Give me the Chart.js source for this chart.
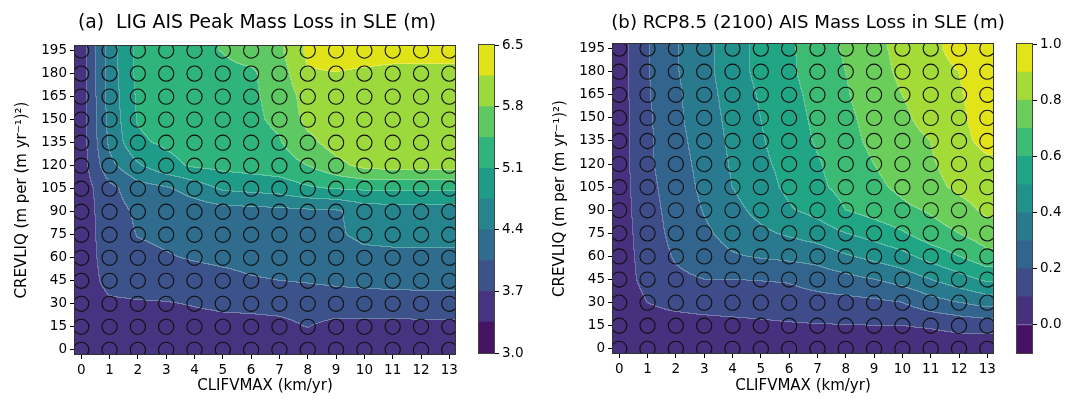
<!DOCTYPE html>
<html>
<head>
<meta charset="utf-8">
<script src="https://cdn.jsdelivr.net/npm/chart.js@4.4.1/dist/chart.umd.min.js"></script>
<style>
  html, body { margin: 0; padding: 0; background: #fff; }
  #wrap { position: relative; width: 1083px; height: 400px; overflow: hidden; }
  canvas { position: absolute; top: 0; }
</style>
</head>
<body>
<div id="wrap">
  <canvas id="ligChart" width="470" height="400" style="left:0px"></canvas>
  <canvas id="ligBar" width="70" height="400" style="left:470px"></canvas>
  <canvas id="rcpChart" width="480" height="400" style="left:540px"></canvas>
  <canvas id="rcpBar" width="73" height="400" style="left:1010px"></canvas>
</div>
<script>
const clifvmax = [0, 1, 2, 3, 4, 5, 6, 7, 8, 9, 10, 11, 12, 13];
const crevliq = [0, 15, 30, 45, 60, 75, 90, 105, 120, 135, 150, 165, 180, 195];

// LIG peak AIS mass loss (m SLE): one row per CREVLIQ value, columns follow CLIFVMAX
const ligPeakLoss = [
    [3.42, 3.47, 3.47, 3.47, 3.47, 3.47, 3.47, 3.47, 3.48, 3.47, 3.47, 3.47, 3.47, 3.47],
    [3.48, 3.55, 3.57, 3.58, 3.58, 3.60, 3.60, 3.62, 3.71, 3.62, 3.60, 3.60, 3.60, 3.60],
    [3.50, 3.65, 3.67, 3.68, 3.72, 3.76, 3.78, 3.80, 3.82, 3.85, 3.88, 3.90, 3.92, 3.93],
    [3.50, 3.80, 3.85, 3.90, 3.95, 3.98, 4.03, 4.05, 4.08, 4.12, 4.14, 4.15, 4.15, 4.15],
    [3.50, 3.85, 3.98, 4.03, 4.07, 4.10, 4.12, 4.14, 4.17, 4.22, 4.30, 4.32, 4.32, 4.32],
    [3.50, 3.88, 4.06, 4.10, 4.15, 4.18, 4.20, 4.22, 4.25, 4.35, 4.48, 4.50, 4.50, 4.50],
    [3.50, 3.90, 4.10, 4.15, 4.20, 4.25, 4.28, 4.30, 4.33, 4.35, 4.55, 4.58, 4.58, 4.58],
    [3.50, 3.95, 4.25, 4.35, 4.55, 4.80, 4.85, 4.90, 5.05, 5.12, 5.15, 5.15, 5.15, 5.15],
    [3.50, 4.30, 4.70, 5.00, 5.15, 5.20, 5.25, 5.30, 5.45, 5.70, 5.90, 5.95, 5.95, 5.95],
    [3.50, 4.45, 5.05, 5.15, 5.22, 5.27, 5.32, 5.42, 5.70, 5.95, 6.00, 6.00, 6.00, 6.00],
    [3.50, 4.50, 5.12, 5.22, 5.27, 5.32, 5.38, 5.52, 5.90, 6.00, 6.00, 6.00, 6.00, 6.00],
    [3.50, 4.52, 5.15, 5.25, 5.30, 5.35, 5.40, 5.55, 5.95, 6.00, 6.00, 6.00, 6.00, 6.00],
    [3.50, 4.55, 5.18, 5.28, 5.33, 5.38, 5.40, 5.62, 6.12, 6.14, 6.10, 6.05, 6.05, 6.05],
    [3.50, 4.55, 5.20, 5.30, 5.38, 5.46, 5.58, 5.72, 6.22, 6.30, 6.30, 6.30, 6.30, 6.30]
];

// RCP8.5 AIS mass loss by 2100 (m SLE), same layout
const rcpLoss2100 = [
    [0.02, 0.04, 0.04, 0.04, 0.04, 0.04, 0.045, 0.045, 0.05, 0.05, 0.05, 0.04, 0.04, 0.03],
    [0.03, 0.07, 0.07, 0.075, 0.08, 0.085, 0.09, 0.095, 0.097, 0.10, 0.10, 0.11, 0.13, 0.14],
    [0.04, 0.10, 0.12, 0.13, 0.135, 0.14, 0.155, 0.165, 0.17, 0.18, 0.20, 0.26, 0.30, 0.34],
    [0.05, 0.13, 0.18, 0.20, 0.20, 0.205, 0.21, 0.24, 0.27, 0.30, 0.34, 0.40, 0.46, 0.52],
    [0.05, 0.14, 0.21, 0.25, 0.29, 0.31, 0.325, 0.34, 0.39, 0.43, 0.47, 0.54, 0.60, 0.67],
    [0.05, 0.15, 0.23, 0.28, 0.34, 0.38, 0.415, 0.45, 0.50, 0.54, 0.59, 0.66, 0.70, 0.76],
    [0.05, 0.16, 0.24, 0.305, 0.37, 0.43, 0.49, 0.53, 0.60, 0.64, 0.68, 0.71, 0.76, 0.82],
    [0.05, 0.17, 0.25, 0.32, 0.40, 0.46, 0.52, 0.58, 0.63, 0.68, 0.72, 0.77, 0.82, 0.86],
    [0.05, 0.18, 0.26, 0.33, 0.41, 0.48, 0.53, 0.59, 0.65, 0.70, 0.74, 0.79, 0.84, 0.88],
    [0.05, 0.18, 0.27, 0.34, 0.42, 0.49, 0.55, 0.61, 0.67, 0.72, 0.76, 0.80, 0.87, 0.93],
    [0.05, 0.18, 0.28, 0.35, 0.43, 0.50, 0.56, 0.62, 0.68, 0.73, 0.78, 0.84, 0.88, 0.95],
    [0.05, 0.19, 0.28, 0.36, 0.44, 0.51, 0.57, 0.63, 0.69, 0.75, 0.80, 0.85, 0.89, 0.95],
    [0.05, 0.19, 0.29, 0.37, 0.45, 0.53, 0.58, 0.65, 0.70, 0.76, 0.82, 0.86, 0.90, 0.96],
    [0.05, 0.19, 0.29, 0.37, 0.45, 0.53, 0.58, 0.66, 0.71, 0.77, 0.83, 0.87, 0.94, 0.98]
];

const ligLevels = [3.0, 3.35, 3.7, 4.05, 4.4, 4.75, 5.1, 5.45, 5.8, 6.15, 6.5];
const ligTicks = [3.0, 3.7, 4.4, 5.1, 5.8, 6.5];
const rcpLevels = [-0.1, 0.0, 0.1, 0.2, 0.3, 0.4, 0.5, 0.6, 0.7, 0.8, 0.9, 1.0];
const rcpTicks = [0.0, 0.2, 0.4, 0.6, 0.8, 1.0];

const FONT = "'DejaVu Sans', sans-serif";

const viridisStops = ['#440154', '#471365', '#482475', '#463480', '#414487', '#3b528b', '#355f8d',
    '#2f6c8e', '#2a788e', '#25848e', '#21918c', '#1e9c89', '#22a884', '#2fb47c', '#44bf70',
    '#5ec962', '#7ad151', '#9bd93c', '#bddf26', '#dfe318', '#fde725'];

function hexRgb(h) {
    return [parseInt(h.slice(1, 3), 16), parseInt(h.slice(3, 5), 16), parseInt(h.slice(5, 7), 16)];
}

function viridis(t) {
    t = Math.min(Math.max(t, 0), 1);
    const f = t * (viridisStops.length - 1);
    const i = Math.min(Math.floor(f), viridisStops.length - 2);
    const a = hexRgb(viridisStops[i]), b = hexRgb(viridisStops[i + 1]);
    const k = f - i;
    return a.map((v, n) => Math.round(v + (b[n] - v) * k));
}

// one colour per filled band, taken at the band middle
function bandColors(levels) {
    const n = levels.length - 1;
    const out = [];
    for (let i = 0; i < n; i++) out.push(viridis((i + 0.5) / n));
    return out;
}

function rgbStr(c) {
    return 'rgb(' + c[0] + ',' + c[1] + ',' + c[2] + ')';
}

function sampleGrid(grid, xv, yv) {
    const nx = clifvmax.length - 1, ny = crevliq.length - 1;
    let gx = (xv - clifvmax[0]) / (clifvmax[1] - clifvmax[0]);
    let gy = (yv - crevliq[0]) / (crevliq[1] - crevliq[0]);
    gx = Math.min(Math.max(gx, 0), nx);
    gy = Math.min(Math.max(gy, 0), ny);
    const i = Math.min(Math.floor(gx), nx - 1), j = Math.min(Math.floor(gy), ny - 1);
    const fx = gx - i, fy = gy - j;
    const v00 = grid[j][i], v10 = grid[j][i + 1], v01 = grid[j + 1][i], v11 = grid[j + 1][i + 1];
    return (v00 * (1 - fx) + v10 * fx) * (1 - fy) + (v01 * (1 - fx) + v11 * fx) * fy;
}

function bandOf(levels, v) {
    for (let i = levels.length - 2; i >= 0; i--) {
        if (v >= levels[i]) return i;
    }
    return 0;
}

// filled contours under the markers, box frame and panel title
const contourFill = {
    id: 'contourFill',
    beforeDatasetsDraw(chart, args, opts) {
        const {ctx, chartArea: a, scales: {x, y}} = chart;
        const left = Math.round(a.left), top = Math.round(a.top);
        const w = Math.round(a.right) - left, h = Math.round(a.bottom) - top;
        const colors = bandColors(opts.levels);
        const band = new Int16Array(w * h);
        for (let j = 0; j < h; j++) {
            const yv = y.getValueForPixel(top + j + 0.5);
            for (let i = 0; i < w; i++) {
                const xv = x.getValueForPixel(left + i + 0.5);
                band[j * w + i] = bandOf(opts.levels, sampleGrid(opts.grid, xv, yv));
            }
        }
        const off = document.createElement('canvas');
        off.width = w;
        off.height = h;
        const octx = off.getContext('2d');
        const img = octx.createImageData(w, h);
        for (let j = 0; j < h; j++) {
            for (let i = 0; i < w; i++) {
                const k = j * w + i;
                const b = band[k];
                const c = colors[b];
                const edge = (i < w - 1 && band[k + 1] !== b) || (j < h - 1 && band[k + w] !== b);
                const mix = edge ? 0.28 : 0;
                img.data[k * 4] = c[0] + (255 - c[0]) * mix;
                img.data[k * 4 + 1] = c[1] + (255 - c[1]) * mix;
                img.data[k * 4 + 2] = c[2] + (255 - c[2]) * mix;
                img.data[k * 4 + 3] = 255;
            }
        }
        octx.putImageData(img, 0, 0);
        ctx.drawImage(off, left, top);
    },
    afterDatasetsDraw(chart) {
        const {ctx, chartArea: a} = chart;
        ctx.save();
        ctx.strokeStyle = '#333';
        ctx.lineWidth = 1;
        ctx.strokeRect(Math.round(a.left) - 0.5, Math.round(a.top) - 0.5,
            Math.round(a.right) - Math.round(a.left) + 1, Math.round(a.bottom) - Math.round(a.top) + 1);
        ctx.restore();
    },
    afterDraw(chart, args, opts) {
        const ctx = chart.ctx;
        ctx.save();
        ctx.font = opts.titleSize + 'px ' + FONT;
        ctx.fillStyle = '#000';
        ctx.textAlign = 'center';
        ctx.textBaseline = 'alphabetic';
        ctx.fillText(opts.title, opts.titleX, 28);
        ctx.restore();
    }
};

const frameBox = {
    id: 'frameBox',
    afterDatasetsDraw(chart) {
        const {ctx, chartArea: a} = chart;
        ctx.save();
        ctx.strokeStyle = '#444';
        ctx.lineWidth = 1;
        ctx.strokeRect(Math.round(a.left) - 0.5, Math.round(a.top) - 0.5,
            Math.round(a.right) - Math.round(a.left) + 1, Math.round(a.bottom) - Math.round(a.top) + 1);
        ctx.restore();
    }
};

function gridPoints() {
    const pts = [];
    crevliq.forEach(cy => clifvmax.forEach(cx => pts.push({x: cx, y: cy})));
    return pts;
}

function tickFont() {
    return {family: FONT, size: 13.5};
}

function labelFont() {
    return {family: FONT, size: 15};
}

function contourPanel(id, grid, levels, title, titleX, titleSize, pad, yAxisWidth, xAxisHeight, yTitlePad) {
    return new Chart(document.getElementById(id), {
        type: 'scatter',
        data: {
            datasets: [{
                data: gridPoints(),
                pointRadius: 7.6,
                pointBorderWidth: 1.1,
                borderColor: '#111',
                backgroundColor: 'rgba(0,0,0,0)',
                clip: 0
            }]
        },
        options: {
            responsive: false,
            animation: false,
            events: [],
            layout: {padding: pad},
            plugins: {
                legend: {display: false},
                tooltip: {enabled: false},
                contourFill: {grid: grid, levels: levels, title: title, titleX: titleX, titleSize: titleSize}
            },
            scales: {
                x: {
                    type: 'linear',
                    min: -0.22,
                    max: 13.2,
                    afterBuildTicks: s => { s.ticks = clifvmax.map(v => ({value: v})); },
                    afterFit: s => { s.height = xAxisHeight; },
                    border: {display: false},
                    grid: {drawOnChartArea: false, drawTicks: true, tickLength: 5, tickColor: '#000', tickWidth: 1},
                    ticks: {color: '#000', font: tickFont(), padding: 3, maxRotation: 0, autoSkip: false,
                        callback: v => String(v)},
                    title: {display: true, text: 'CLIFVMAX (km/yr)', color: '#000', font: labelFont(),
                        padding: {top: 0, bottom: 5}}
                },
                y: {
                    type: 'linear',
                    min: -2.7,
                    max: 198,
                    afterBuildTicks: s => { s.ticks = crevliq.map(v => ({value: v})); },
                    afterFit: s => { s.width = yAxisWidth; },
                    border: {display: false},
                    grid: {drawOnChartArea: false, drawTicks: true, tickLength: 5, tickColor: '#000', tickWidth: 1},
                    ticks: {color: '#000', font: tickFont(), padding: 3, autoSkip: false,
                        callback: v => String(v)},
                    title: {display: true, text: 'CREVLIQ (m per (m yr\u207B\u00B9)\u00B2)', color: '#000',
                        font: labelFont(), padding: {top: yTitlePad, bottom: 0}}
                }
            }
        },
        plugins: [contourFill]
    });
}

function colorbar(id, levels, ticks, pad, axisWidth) {
    const colors = bandColors(levels);
    return new Chart(document.getElementById(id), {
        type: 'bar',
        data: {
            labels: [''],
            datasets: levels.slice(0, -1).map((lv, i) => ({
                data: [[lv, levels[i + 1]]],
                backgroundColor: rgbStr(colors[i]),
                borderWidth: 0,
                barPercentage: 1,
                categoryPercentage: 1,
                grouped: false
            }))
        },
        options: {
            responsive: false,
            animation: false,
            events: [],
            layout: {padding: pad},
            plugins: {legend: {display: false}, tooltip: {enabled: false}},
            scales: {
                x: {display: false},
                y: {
                    position: 'right',
                    min: levels[0],
                    max: levels[levels.length - 1],
                    afterBuildTicks: s => { s.ticks = ticks.map(v => ({value: v})); },
                    afterFit: s => { s.width = axisWidth; },
                    border: {display: false},
                    grid: {drawOnChartArea: false, drawTicks: true, tickLength: 5, tickColor: '#000', tickWidth: 1},
                    ticks: {color: '#000', font: tickFont(), padding: 3, autoSkip: false,
                        callback: v => Number(v).toFixed(1)}
                }
            }
        },
        plugins: [frameBox]
    });
}

contourPanel('ligChart', ligPeakLoss, ligLevels, '(a)  LIG AIS Peak Mass Loss in SLE (m)', 257, 18.8,
    {left: 0, top: 46, right: 15, bottom: 0}, 75, 46, 13);
colorbar('ligBar', ligLevels, ligTicks, {left: 9, top: 45, right: 0, bottom: 47}, 46);

contourPanel('rcpChart', rcpLoss2100, rcpLevels, '(b) RCP8.5 (2100) AIS Mass Loss in SLE (m)', 268, 18.2,
    {left: 0, top: 44, right: 27, bottom: 0}, 73, 47, 11);
colorbar('rcpBar', rcpLevels, rcpTicks, {left: 7, top: 44, right: 0, bottom: 47}, 51);
</script>
</body>
</html>
